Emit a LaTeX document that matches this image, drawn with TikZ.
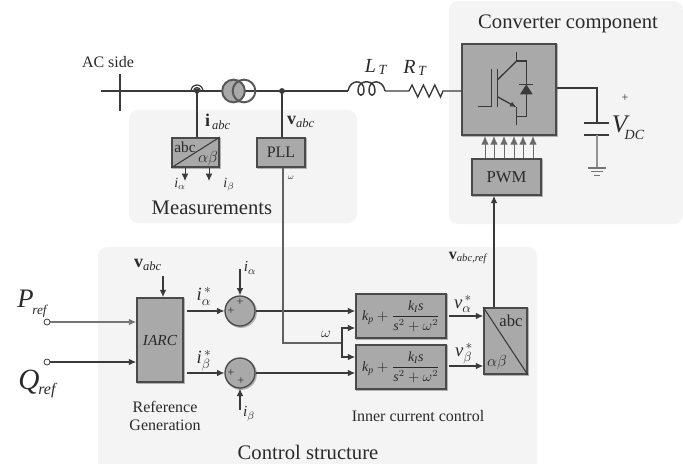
\documentclass[tikz,border=0pt]{standalone}
\usepackage{amsmath}
\usepackage{fontspec}
\setmainfont{Liberation Serif}
\usetikzlibrary{arrows.meta,calc}
\definecolor{panel}{HTML}{F4F4F4}
\definecolor{blockfill}{HTML}{A9A9A9}
\definecolor{blockedge}{HTML}{4A4A4A}
\definecolor{wire}{HTML}{3A3A3A}
\definecolor{txt}{HTML}{2A2A2A}
\newcommand{\ii}[1]{\textit{#1}}
\newcommand{\bigsub}[5]{{\fontsize{#1}{#1}\selectfont\itshape #2}\kern#5pt\raisebox{-#4pt}{\fontsize{#3}{#3}\selectfont\itshape ref}}
\tikzset{
 x=0.75pt,y=-0.75pt,
 every node/.style={text=txt,inner sep=0pt},
 block/.style={draw=blockedge,line width=1.3pt,fill=blockfill,
   preaction={draw=black!30,line width=1.3pt,transform canvas={shift={(0.8pt,-0.8pt)}}}},
 wireline/.style={draw=wire,line width=0.8pt},
 arrowline/.style={wireline,-{Latex[length=5.5pt,width=5pt]}},
 lab/.style={font=\fontsize{10.5}{12}\selectfont},
 cap14/.style={font=\fontsize{15.5}{18}\selectfont},
 cap11/.style={font=\fontsize{12}{14}\selectfont},
}
\begin{document}
\begin{tikzpicture}
\useasboundingbox (0,0) rectangle (683,464);
\fill[white] (0,0) rectangle (683,464);
% panels
\fill[panel,rounded corners=7pt] (449,1) rectangle (683,224);
\fill[panel,rounded corners=7pt] (129,110) rectangle (357,223);
\fill[panel] (98,464) [rounded corners=7pt] -- (98,247) -- (537,247) [sharp corners] -- (537,464) -- cycle;

% coordinates
\coordinate (linestart) at (101,91);
\coordinate (busT) at (120,74);
\coordinate (busB) at (120,111);
\coordinate (ct) at (197,91);
\coordinate (tr1) at (233.5,91);
\coordinate (tr2) at (244,91);
\coordinate (tap) at (282,91);
\coordinate (Lstart) at (348,91);
\coordinate (Lend) at (385,91);
\coordinate (Rstart) at (409,91);
\coordinate (Rend) at (443,91);

% blocks
\node[block,minimum width=35.3pt,minimum height=21.8pt] (abcm) at (195.5,152.5) {};
\node[block,minimum width=36pt,minimum height=21.8pt,font=\fontsize{12}{14}\selectfont] (pll) at (281,152.5) {PLL};
\node[block,minimum width=70.5pt,minimum height=68.3pt] (conv) at (509,89.5) {};
\node[block,minimum width=51.8pt,minimum height=27pt,font=\fontsize{12.5}{14}\selectfont] (pwm) at (506.5,177) {PWM};
\node[block,minimum width=34.5pt,minimum height=63pt] (iarc) at (160,340) {};
\node[block,minimum width=67.5pt,minimum height=33pt] (pr1) at (401,316) {};
\node[block,minimum width=67.5pt,minimum height=33pt] (pr2) at (401,367) {};
\node[block,minimum width=32.2pt,minimum height=49.5pt] (abcc) at (505.5,341) {};
\node[block,circle,minimum size=22.5pt,line width=1pt] (s1) at (240,311) {};
\node[block,circle,minimum size=22.5pt,line width=1pt] (s2) at (240,373) {};
\node[draw=wire,circle,minimum size=4.5pt,line width=0.6pt,fill=white] (pin) at (47,322) {};
\node[draw=wire,circle,minimum size=4.5pt,line width=0.6pt,fill=white] (qin) at (47,362) {};

% AC line
\draw[wireline,line width=1pt] (linestart) -- (Lstart);
\draw[wireline,line width=1.5pt] (busT) -- (busB);
\draw[wireline] (ct) -- (abcm.north -| ct);
\draw[wireline,line width=0.9pt] ($(ct)+(-6,0)$) arc[start angle=180,end angle=0,radius=4.5pt];
\draw[wireline,line width=0.9pt] ($(ct)+(-3.5,0)$) arc[start angle=180,end angle=0,radius=2.6pt];
\fill[wire] (ct) circle[radius=2pt];
\node[draw=wire!85,circle,minimum size=17pt,line width=1.5pt,fill=blockfill] (t1) at (tr1) {};
\node[draw=wire!85,circle,minimum size=17pt,line width=1.5pt] (t2) at (tr2) {};
\fill[wire] (tap) circle[radius=2.2pt];
\draw[wireline] (tap) -- (pll.north -| tap);
% inductor
\draw[wireline,line width=1.1pt] (Lstart) .. controls (350,79) and (364,79) .. (364,90)
  .. controls (364,97) and (358,97) .. (358,90)
  .. controls (358,79) and (375,79) .. (375,90)
  .. controls (375,97) and (369,97) .. (369,90)
  .. controls (369,79) and (383,79) .. (Lend);
\draw[wireline,line width=1pt] (Lend) -- (Rstart) -- ++(3,-6) -- ++(5.7,12) -- ++(5.7,-12) -- ++(5.7,12) -- ++(5.7,-12) -- ++(5.7,12) -- (Rend) -- (conv.west |- Rend);

% measurement block
\draw[wireline] (abcm.south west) -- (abcm.north east);
\node[anchor=center,font=\fontsize{11.5}{13}\selectfont] (abcmT) at (185,147) {abc};
\node[anchor=center,font=\fontsize{11.5}{13}\selectfont] (abcmB) at (208,158) {$\alpha\beta$};
\coordinate (ia) at (185,181);
\coordinate (ib) at (209,181);
\draw[arrowline,line width=0.6pt] (abcm.south -| ia) -- (ia);
\draw[arrowline,line width=0.6pt] (abcm.south -| ib) -- (ib);
\node[lab] (lia) at (180,184) {$\ii{i}_{\alpha}$};
\node[lab] (lib) at (229,185) {$\ii{i}_{\beta}$};
\node[font=\fontsize{13.5}{15}\selectfont] (liabc) at (218,122) {$\mathbf{i}_{\ii{\,abc}}$};
\node[font=\fontsize{13.5}{15}\selectfont] (lvabc) at (301,122) {$\mathbf{v}_{\ii{abc}}$};
\node[font=\fontsize{6}{7}\selectfont] (lw0) at (291,178) {$\omega$};
\node[cap14] (measT) at (212,208) {Measurements};
\node[font=\fontsize{12}{14}\selectfont] (acl) at (108,62) {AC side};
\node[font=\fontsize{15}{17}\selectfont] (lL) at (376,67) {$\ii{L}_{\,\ii{T}}$};
\node[font=\fontsize{15}{17}\selectfont] (lR) at (415,68) {$\ii{R}_{\,\ii{T}}$};
\node[cap14] (convT) at (568,24) {Converter component};

% IGBT
\begin{scope}[shift={(440,0)},x=0.25pt,y=-0.25pt,draw=wire]
\draw[line width=1pt] (113,320) -- (155,320) -- (155,208);
\draw[line width=1pt] (172,208) -- (172,320);
\draw[line width=1pt] (172,240) -- (230,183);
\draw[line width=1pt] (230,155) -- (230,183) -- (260,183) -- (260,350) -- (230,350);
\draw[line width=1pt] (230,375) -- (230,322);
\draw[line width=1pt,-{Latex[length=5pt,width=4pt]}] (172,290) -- (230,322);
\draw[line width=1pt] (238,253) -- (278,253);
\fill[wire] (240,283) -- (278,283) -- (259,253) -- cycle;
\end{scope}

% gate arrows
\foreach \xx in {485,494,504,514,523,533}{
 \coordinate (g) at (\xx,0);
 \draw[draw=wire!75,line width=0.7pt,-{Latex[length=6.5pt,width=5.5pt]}] (pwm.north -| g) -- (conv.south -| g);
}
% DC side
\coordinate (dcc) at (597,88);
\coordinate (plA) at (597,123);
\coordinate (plB) at (597,135);
\coordinate (gnd) at (597,168);
\draw[wireline,line width=1pt] (conv.east |- dcc) -- (dcc) -- (plA);
\draw[wireline,line width=1pt] ($(plA)+(-13,0)$) -- ($(plA)+(12,0)$);
\draw[wireline,line width=1pt] ($(plB)+(-13,0)$) -- ($(plB)+(12,0)$);
\draw[draw=wire!55,line width=0.9pt] (plB) -- (gnd);
\draw[draw=wire!70,line width=0.8pt] ($(gnd)+(-9,0)$) -- ($(gnd)+(9,0)$);
\draw[draw=wire!70,line width=0.7pt] ($(gnd)+(-6,3.5)$) -- ($(gnd)+(6,3.5)$);
\draw[draw=wire!70,line width=0.7pt] ($(gnd)+(-3,7)$) -- ($(gnd)+(3,7)$);
\node[font=\fontsize{9}{10}\selectfont] (plus) at (625,98) {+};
\node (lvdc) at (628,128) {{\fontsize{19}{19}\selectfont\itshape V}\kern-2pt\raisebox{-5pt}{\fontsize{10.5}{10.5}\selectfont\itshape DC}};

% inputs
\draw[arrowline,draw=wire!70] (pin) -- (iarc.west |- pin);
\draw[arrowline] (qin) -- (iarc.west |- qin);
\node (lp) at (32,304) {\bigsub{20}{P}{10}{5}{-1}};
\node (lq) at (37,384) {\bigsub{22}{Q}{12}{4}{-1}};
\coordinate (vt) at (163,276);
\draw[arrowline] (vt) -- (iarc.north -| vt);
\node[font=\fontsize{13.5}{15}\selectfont] (lv2) at (148,265) {$\mathbf{v}_{\ii{abc}}$};
\node[font=\fontsize{11.5}{13}\selectfont\itshape] (liarc) at (160,340) {IARC};
\node[cap11] (rg1) at (165,407) {Reference};
\node[cap11] (rg2) at (165,425) {Generation};

% sums
\coordinate (ai) at (187,311);
\coordinate (bi) at (187,373);
\draw[arrowline] (ai) -- (s1.west);
\draw[arrowline] (bi) -- (s2.west);
\coordinate (ia2) at (240,269);
\coordinate (ib2) at (240,410);
\draw[arrowline] (ia2) -- (s1.north);
\draw[arrowline] (ib2) -- (s2.south);
\node[font=\fontsize{9}{10}\selectfont] (p1a) at (231,311) {+};
\node[font=\fontsize{9}{10}\selectfont] (p1b) at (240,302) {+};
\node[font=\fontsize{9}{10}\selectfont] (p2a) at (231,373) {+};
\node[font=\fontsize{9}{10}\selectfont] (p2b) at (241,381) {+};
\node[font=\fontsize{14}{16}\selectfont] (lastar) at (204,296) {$\ii{i}^{\,*}_{\alpha}$};
\node[font=\fontsize{14}{16}\selectfont] (lbstar) at (204,361) {$\ii{i}^{\,*}_{\beta}$};
\node[font=\fontsize{11.5}{13}\selectfont] (lia2) at (250,268) {$\ii{i}_{\alpha}$};
\node[font=\fontsize{11.5}{13}\selectfont] (lib2) at (249,414) {$\ii{i}_{\beta}$};

% signal lines to PR
\draw[arrowline] (s1.east) -- (pr1.west |- s1);
\draw[arrowline] (s2.east) -- (pr2.west |- s2);
\coordinate (wc) at (283,343);
\coordinate (wj) at (342,343);
\coordinate (w1) at (342,328);
\coordinate (w2) at (342,357);
\draw[draw=wire!80,line width=0.8pt] (pll.south -| wc) -- (wc) -- (wj);
\draw[arrowline] (wj) -- (w1) -- (pr1.west |- w1);
\draw[arrowline] (wj) -- (w2) -- (pr2.west |- w2);
\node[font=\fontsize{10.5}{12}\selectfont] (lw) at (326,334) {$\omega$};
\node[font=\fontsize{10.5}{12}\selectfont] (f1) at (401,316) {$\ii{k}_{\ii{p}}+\dfrac{\ii{k}_{\ii{I}}\ii{s}}{\ii{s}^2+\omega^2}$};
\node[font=\fontsize{10.5}{12}\selectfont] (f2) at (401,367) {$\ii{k}_{\ii{p}}+\dfrac{\ii{k}_{\ii{I}}\ii{s}}{\ii{s}^2+\omega^2}$};
\node[cap11] (icc) at (418,416) {Inner current control};
\node[cap14] (cst) at (308,452) {Control structure};

% outputs
\coordinate (va) at (449,316);
\coordinate (vb) at (449,366);
\draw[arrowline] (va) -- (abcc.west |- va);
\draw[arrowline] (vb) -- (abcc.west |- vb);
\node[font=\fontsize{14}{16}\selectfont] (lva) at (463,304) {$\ii{v}^{\,*}_{\alpha}$};
\node[font=\fontsize{14}{16}\selectfont] (lvb) at (464,354) {$\ii{v}^{\,*}_{\beta}$};
\draw[wireline] (abcc.north west) -- (abcc.south east);
\node[font=\fontsize{12.5}{14}\selectfont] (labc) at (511,321) {abc};
\node[font=\fontsize{12.5}{14}\selectfont] (lab) at (497,362) {$\alpha\beta$};
\coordinate (up) at (494,300);
\draw[arrowline] (abcc.north -| up) -- (pwm.south -| up);
\node[font=\fontsize{12}{14}\selectfont] (lvref) at (468,258) {$\mathbf{v}_{\ii{abc,ref}}$};
\end{tikzpicture}
\end{document}
